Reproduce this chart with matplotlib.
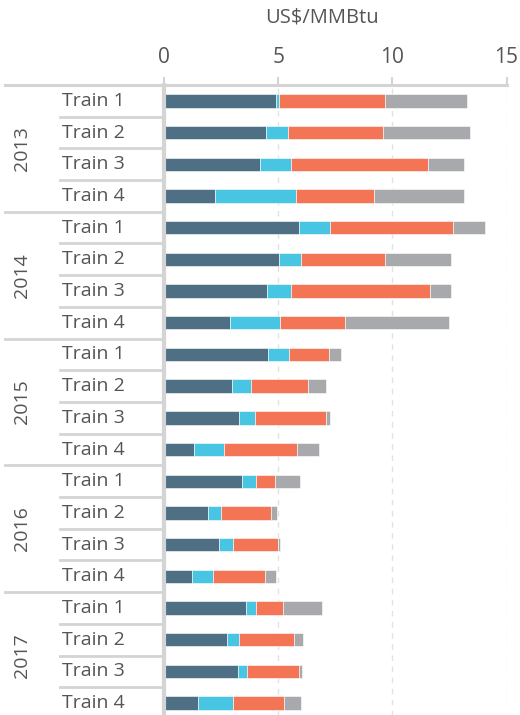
import matplotlib
matplotlib.use("Agg")
import matplotlib.pyplot as plt

# data (US$/MMBtu, stacked segments)
years = ["2013", "2014", "2015", "2016", "2017"]
trains = ["Train 1", "Train 2", "Train 3", "Train 4"]

seg_dark = [4.89, 4.45, 4.20, 2.25,
            5.90, 5.02, 4.51, 2.88,
            4.55, 2.97, 3.28, 1.32,
            3.40, 1.93, 2.43, 1.22,
            3.57, 2.78, 3.26, 1.51]
seg_cyan = [0.15, 0.97, 1.38, 3.53,
            1.38, 0.98, 1.05, 2.19,
            0.94, 0.82, 0.69, 1.30,
            0.63, 0.56, 0.59, 0.92,
            0.44, 0.50, 0.37, 1.52]
seg_orange = [4.65, 4.17, 6.00, 3.43,
              5.36, 3.69, 6.07, 2.85,
              1.73, 2.51, 3.12, 3.19,
              0.82, 2.20, 1.96, 2.28,
              1.20, 2.40, 2.27, 2.21]
seg_gray = [3.60, 3.82, 1.54, 3.94,
            1.42, 2.90, 0.96, 4.54,
            0.54, 0.79, 0.17, 0.97,
            1.12, 0.24, 0.12, 0.48,
            1.70, 0.41, 0.16, 0.76]

colors = ["#4f6f84", "#48c5e2", "#f47556", "#a8a9ad"]
line_col = "#d4d4d4"
text_col = "#555555"

plt.rcParams['font.family'] = ['Open Sans', 'DejaVu Sans']

fig = plt.figure(figsize=(5.2, 7.15), dpi=100)
ax = fig.add_axes([164/520, 1 - 719/715, (506.5 - 164)/520, (719 - 85)/715])

n = len(seg_dark)
ypos = list(range(n))
left = [0.0] * n
for seg, c in zip([seg_dark, seg_cyan, seg_orange, seg_gray], colors):
    ax.barh(ypos, seg, left=left, height=0.42, color=c,
            edgecolor="white", linewidth=0.4, zorder=3)
    left = [l + s for l, s in zip(left, seg)]

ax.set_xlim(0, 15)
ax.set_ylim(n - 0.5, -0.5)
ax.set_xticks([0, 5, 10, 15])
ax.xaxis.tick_top()
ax.tick_params(axis="x", length=6, width=1.5, color=line_col,
               labelsize=15, labelcolor=text_col, pad=6)
ax.set_yticks([])
for x in [5, 10, 15]:
    ax.axvline(x, color="#e2e2e2", linestyle=(0, (4, 4)), linewidth=1, zorder=1)

for s in ["right", "bottom", "top"]:
    ax.spines[s].set_visible(False)
ax.spines["left"].set_color(line_col)
ax.spines["left"].set_linewidth(3)
ax.spines["left"].set_zorder(5)

trans = ax.get_yaxis_transform()
x_long = (5 - 164) / 342.5
x_short = (60 - 164) / 342.5
# top line across everything
ax.plot([x_long, 1.0], [-0.5, -0.5], transform=trans, color=line_col,
        linewidth=2.2, clip_on=False, zorder=4)
for i in range(1, n):
    xs = x_long if i % 4 == 0 else x_short
    ax.plot([xs, 0], [i - 0.5, i - 0.5], transform=trans, color=line_col,
            linewidth=2, clip_on=False)

for i in range(n):
    ax.text((62 - 164) / 342.5, i, trains[i % 4], transform=trans,
            ha="left", va="center", fontsize=14, color=text_col)
for g, yr in enumerate(years):
    ax.text((22 - 164) / 342.5, g * 4 + 1.5, yr, transform=trans,
            ha="center", va="center", rotation=90, fontsize=14, color=text_col)

fig.text(322 / 520, 1 - 18 / 715, "US$/MMBtu", ha="center", va="center",
         fontsize=14.5, color=text_col)

fig.savefig("out.png", dpi=100)
